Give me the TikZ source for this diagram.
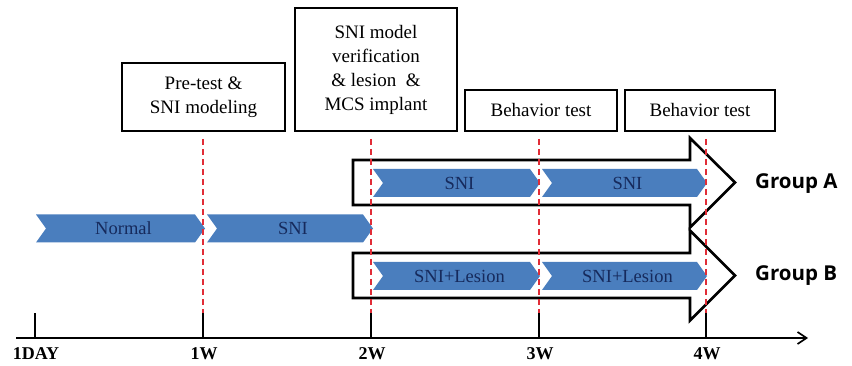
\documentclass[tikz,border=0pt]{standalone}
\usepackage{fontspec}
\setmainfont{Liberation Serif}
\newfontfamily\grpfont{Open Sans}
\usetikzlibrary{arrows.meta}
\definecolor{chevblue}{RGB}{74,126,190}
\definecolor{chevtxt}{RGB}{22,42,92}
\definecolor{dashred}{RGB}{225,45,55}
\tikzset{
  phasebox/.style={draw=black, line width=2.6pt, fill=white, align=center,
    inner sep=0pt, font=\fontsize{19}{24}\selectfont},
  chevtext/.style={text=chevtxt, inner sep=0pt, font=\fontsize{18.5}{20}\selectfont},
  grouparrow/.style={draw=black, line width=2.6pt, fill=white, line join=miter},
  weekline/.style={draw=dashred, line width=1.8pt, dash pattern=on 6pt off 4pt},
  tickline/.style={draw=black, line width=2pt},
  ticklabel/.style={font=\bfseries\fontsize{18}{20}\selectfont, inner sep=0pt},
  grouplabel/.style={font=\grpfont\bfseries\fontsize{20.5}{22}\selectfont, inner sep=0pt, anchor=west}
}
\newcommand{\chevshape}[5]{%
  \fill[chevblue] (#2,#4-14) -- (#3-10,#4-14) -- (#3,#4) -- (#3-10,#4+14) -- (#2,#4+14) -- (#2+10,#4) -- cycle;
  \node[chevtext] (#1) at ({(#2+#3)/2+3},#4) {#5};}
\begin{document}
\begin{tikzpicture}[x=1pt,y=-1pt]
\useasboundingbox (0,0) rectangle (852,366);

% phase boxes
\node[phasebox, minimum width=163pt, minimum height=68pt] (pre) at (203.5,97) {Pre-test \&\\SNI modeling};
\node[phasebox, minimum width=162pt, minimum height=123pt] (ver) at (376,69.5) {SNI model\\verification\\\& lesion\ \ \&\\MCS implant};
\node[phasebox, minimum width=152pt, minimum height=41pt] (bt1) at (541,110.5) {Behavior test};
\node[phasebox, minimum width=150pt, minimum height=41pt] (bt2) at (700,110.5) {Behavior test};

% group arrows
\draw[grouparrow] (353,160) -- (690,160) -- (690,138) -- (735,182.5) -- (690,227.5) -- (690,205) -- (353,205) -- cycle;
\draw[grouparrow] (353,253) -- (690,253) -- (690,230.5) -- (735,275.5) -- (690,320.5) -- (690,298) -- (353,298) -- cycle;

% chevrons
\chevshape{normal}{36}{205}{228.5}{Normal}
\chevshape{sni0}{207}{373}{228.5}{SNI}
\chevshape{snia1}{373}{540}{183}{SNI}
\chevshape{snia2}{542}{707}{183}{SNI}
\chevshape{snib1}{373}{540}{276}{SNI+Lesion}
\chevshape{snib2}{542}{707}{276}{SNI+Lesion}

% group labels
\node[grouplabel] (ga) at (755,184) {Group A};
\node[grouplabel] (gb) at (755,276) {Group B};

% axis
\coordinate (axs) at (16,338);
\coordinate (axe) at (808,338);
\draw[line width=2pt, -{Straight Barb[length=9pt,width=12pt,line width=1.6pt]}] (axs) -- (axe);

\foreach \nm/\xx/\lab in {d0/35/1DAY, w1/203/1W, w2/371/2W, w3/539/3W, w4/706/4W}{
  \coordinate (\nm b) at (\xx,338);
  \coordinate (\nm t) at (\xx,313);
  \draw[tickline] (\nm b) -- (\nm t);
  \node[ticklabel] (\nm l) at (\xx+1,354) {\lab};
}
\foreach \nm/\xx in {w1/203, w2/371, w3/539, w4/706}{
  \coordinate (\nm top) at (\xx,139);
  \draw[weekline] (\nm top) -- (\nm t);
}
\end{tikzpicture}
\end{document}
